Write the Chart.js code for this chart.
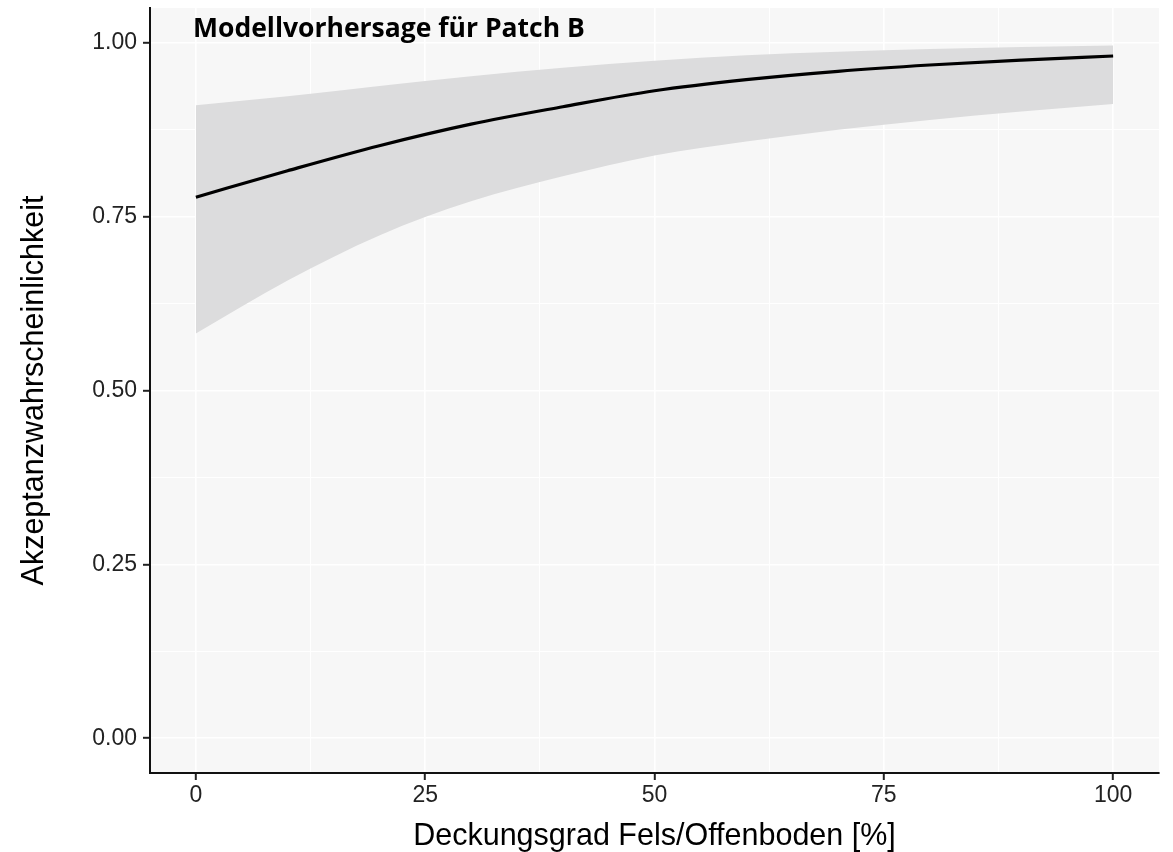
<!DOCTYPE html>
<html>
<head>
<meta charset="utf-8">
<script src="https://cdn.jsdelivr.net/npm/chart.js@4.4.1/dist/chart.umd.min.js"></script>
<style>
  html, body { margin: 0; padding: 0; background: #ffffff; }
  #wrap { width: 1173px; height: 852px; }
</style>
</head>
<body>
<div id="wrap"><canvas id="c" width="1173" height="852"></canvas></div>
<script>
// ---- data ----
const coverValues = [0, 10, 20, 30, 40, 50, 60, 70, 80, 90, 100];
const fitValues   = [0.778, 0.816, 0.852, 0.883, 0.908, 0.931, 0.947, 0.959, 0.968, 0.975, 0.981];
const upperValues = [0.910, 0.923, 0.938, 0.952, 0.964, 0.974, 0.982, 0.987, 0.991, 0.994, 0.996];
const lowerValues = [0.582, 0.658, 0.723, 0.772, 0.808, 0.838, 0.858, 0.875, 0.889, 0.901, 0.912];
const xTickValues = [0, 12.5, 25, 37.5, 50, 62.5, 75, 87.5, 100];
const xTickLabels = ['0', '', '25', '', '50', '', '75', '', '100'];
const yTickValues = [0, 0.125, 0.25, 0.375, 0.5, 0.625, 0.75, 0.875, 1.0];
const yTickLabels = ['0.00', '', '0.25', '', '0.50', '', '0.75', '', '1.00'];
const titleText = 'Modellvorhersage für Patch B';
const xTitle = 'Deckungsgrad Fels/Offenboden [%]';
const yTitle = 'Akzeptanzwahrscheinlichkeit';

const toPoints = ys => coverValues.map((x, i) => ({ x: x, y: ys[i] }));

const panelBg = {
  id: 'panelBg',
  beforeDraw(chart) {
    const { ctx, chartArea: a } = chart;
    ctx.save();
    ctx.fillStyle = '#f7f7f7';
    ctx.fillRect(a.left, a.top, a.right - a.left, a.bottom - a.top);
    ctx.restore();
  }
};

const overlayTitle = {
  id: 'overlayTitle',
  afterDraw(chart) {
    const { ctx } = chart;
    ctx.save();
    ctx.font = 'bold 26.5px "Open Sans", "Liberation Sans", sans-serif';
    ctx.fillStyle = '#000';
    ctx.textBaseline = 'alphabetic';
    ctx.textAlign = 'left';
    ctx.fillText(titleText, 193, 37, 393);
    ctx.restore();
  }
};

const tickFont = { family: '"Liberation Sans", Arial, sans-serif', size: 23 };
const titleFont = { family: '"Liberation Sans", Arial, sans-serif', size: 30.5, lineHeight: 1 };

new Chart(document.getElementById('c'), {
  type: 'line',
  data: {
    datasets: [
      {
        label: 'upper',
        data: toPoints(upperValues),
        borderWidth: 0,
        borderColor: 'rgba(0,0,0,0)',
        backgroundColor: '#dcdcdd',
        pointRadius: 0,
        fill: '+1',
        cubicInterpolationMode: 'monotone',
        order: 2
      },
      {
        label: 'lower',
        data: toPoints(lowerValues),
        borderWidth: 0,
        borderColor: 'rgba(0,0,0,0)',
        backgroundColor: '#dcdcdd',
        pointRadius: 0,
        fill: false,
        cubicInterpolationMode: 'monotone',
        order: 2
      },
      {
        label: 'fit',
        data: toPoints(fitValues),
        borderWidth: 3.2,
        borderColor: '#000000',
        pointRadius: 0,
        fill: false,
        cubicInterpolationMode: 'monotone',
        order: 1
      }
    ]
  },
  options: {
    responsive: false,
    animation: false,
    devicePixelRatio: 1,
    layout: { padding: { left: 0, right: 14, top: 8, bottom: 0 } },
    plugins: { legend: { display: false }, tooltip: { enabled: false }, title: { display: false } },
    scales: {
      x: {
        type: 'linear',
        min: -5,
        max: 105,
        afterBuildTicks: s => { s.ticks = xTickValues.map(v => ({ value: v })); },
        afterFit: s => { s.height = 79; s.paddingLeft = 0; s.paddingRight = 0; },
        ticks: {
          autoSkip: false,
          maxRotation: 0,
          padding: 2,
          color: '#222',
          font: tickFont,
          callback: (v, i) => xTickLabels[i]
        },
        grid: {
          color: '#ffffff',
          lineWidth: ctx => (ctx.index % 2 === 0 ? 1.6 : 1),
          tickColor: ctx => (ctx.index % 2 === 0 ? '#222' : 'rgba(0,0,0,0)'),
          tickLength: 7,
          tickWidth: 2
        },
        border: { display: true, color: '#111', width: 2 },
        title: { display: true, text: xTitle, color: '#000', font: titleFont, padding: { top: 0, bottom: 0 } }
      },
      y: {
        type: 'linear',
        min: -0.05,
        max: 1.05,
        afterBuildTicks: s => { s.ticks = yTickValues.map(v => ({ value: v })); },
        afterFit: s => { s.width = 150; s.paddingTop = 0; s.paddingBottom = 0; },
        ticks: {
          autoSkip: false,
          padding: 6,
          color: '#222',
          font: tickFont,
          callback: (v, i) => yTickLabels[i]
        },
        grid: {
          color: '#ffffff',
          lineWidth: ctx => (ctx.index % 2 === 0 ? 1.6 : 1),
          tickColor: ctx => (ctx.index % 2 === 0 ? '#222' : 'rgba(0,0,0,0)'),
          tickLength: 7,
          tickWidth: 2
        },
        border: { display: true, color: '#111', width: 2 },
        title: { display: true, text: yTitle, color: '#000', font: titleFont, padding: { top: 19, bottom: 0 } }
      }
    }
  },
  plugins: [panelBg, overlayTitle]
});
</script>
</body>
</html>
